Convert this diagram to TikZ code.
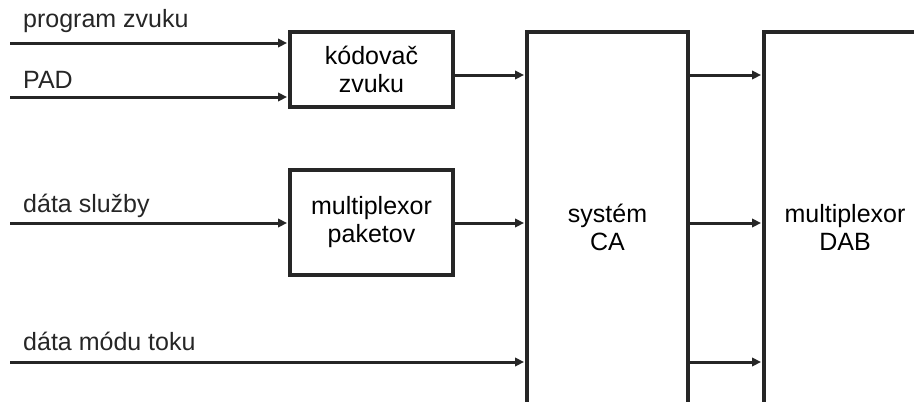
\documentclass[tikz,border=0pt]{standalone}
\usepackage{fontspec}
\setmainfont{Liberation Sans}
\usetikzlibrary{arrows.meta}
\begin{document}
\begin{tikzpicture}[x=1pt,y=-1pt,
  font=\fontsize{25}{28}\selectfont,
  box/.style={draw=black!85, line width=4pt, inner sep=0pt, align=center},
  arr/.style={draw=black!85, line width=3pt, -{Triangle[length=9pt,width=8.5pt]}, shorten >=1pt},
  lbl/.style={anchor=base west, inner sep=0pt, text=black!85}]
\useasboundingbox (0,0) rectangle (914,402);
\fill[white] (0,0) rectangle (914,402);
% boxes
\node[box, minimum width=163pt, minimum height=75pt] (kod) at (371.5,69.5) {kódovač\\zvuku};
\node[box, minimum width=163pt, minimum height=105pt] (mux) at (371.5,222.5) {multiplexor\\paketov};
\node[box, minimum width=161pt, minimum height=390pt] (ca) at (607.5,227) {systém\\CA};
\node[box, minimum width=162pt, minimum height=390pt] (dab) at (845,227) {multiplexor\\DAB};
% input start points
\coordinate (s1) at (10,43);
\coordinate (s2) at (10,97);
\coordinate (s3) at (10,223);
\coordinate (s4) at (10,362);
% labels
\node[lbl] (l1) at (23,27) {program zvuku};
\node[lbl] (l2) at (23,88) {PAD};
\node[lbl] (l3) at (23,212) {dáta služby};
\node[lbl] (l4) at (23,350) {dáta módu toku};
% connectors
\draw[arr] (s1) -- (s1 -| kod.west);
\draw[arr] (s2) -- (s2 -| kod.west);
\draw[arr] (s3) -- (s3 -| mux.west);
\draw[arr] (s4) -- (s4 -| ca.west);
\draw[arr] (kod.east |- 0,75) -- (ca.west |- 0,75);
\draw[arr] (mux.east |- 0,223) -- (ca.west |- 0,223);
\draw[arr] (ca.east |- 0,75) -- (dab.west |- 0,75);
\draw[arr] (ca.east |- 0,223) -- (dab.west |- 0,223);
\draw[arr] (ca.east |- 0,362) -- (dab.west |- 0,362);
\end{tikzpicture}
\end{document}
